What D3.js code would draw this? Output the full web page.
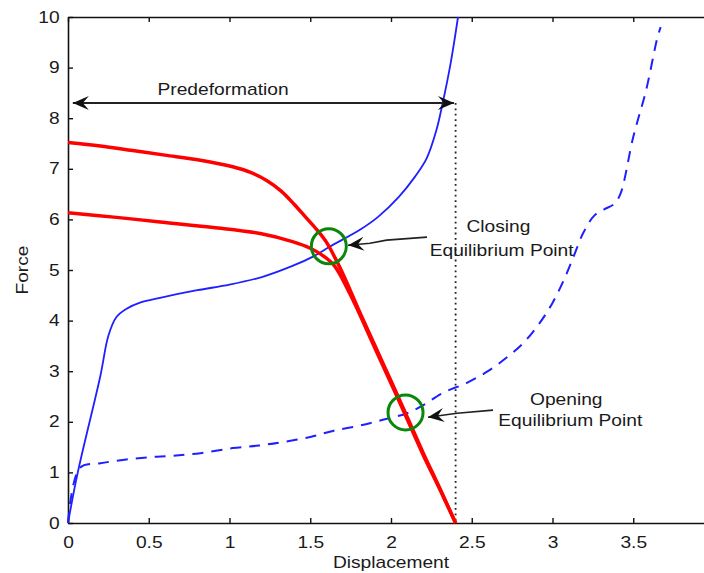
<!DOCTYPE html>
<html>
<head>
<meta charset="utf-8">
<script src="https://cdn.jsdelivr.net/npm/d3@7"></script>
<style>
  html, body { margin: 0; padding: 0; background: #fff; }
  svg { display: block; }
  text { font-family: "Liberation Sans", Arial, Helvetica, sans-serif; fill: #1a1a1a; }
</style>
</head>
<body>
<svg id="chart" width="704" height="573"></svg>
<script>
// ---- data ----
const xTicks = [0, 0.5, 1, 1.5, 2, 2.5, 3, 3.5];
const yTicks = [0, 1, 2, 3, 4, 5, 6, 7, 8, 9, 10];
const xTickLabels = ["0", "0.5", "1", "1.5", "2", "2.5", "3", "3.5"];
const yTickLabels = ["0", "1", "2", "3", "4", "5", "6", "7", "8", "9", "10"];

const blueSolidX = [0, 0.06, 0.2, 0.25, 0.3, 0.36, 0.45, 0.57, 0.8, 1.0, 1.2, 1.39, 1.52, 1.62, 1.81, 1.92, 2.05, 2.15, 2.22, 2.28, 2.32, 2.37, 2.415];
const blueSolidY = [0, 0.99, 2.9, 3.7, 4.07, 4.23, 4.36, 4.45, 4.6, 4.71, 4.86, 5.08, 5.27, 5.46, 5.8, 6.05, 6.45, 6.85, 7.2, 7.75, 8.3, 9.1, 10];

const blueDashX = [0, 0.074, 0.2, 0.35, 0.5, 0.65, 0.82, 1.02, 1.18, 1.33, 1.5, 1.64, 1.8, 1.95, 2.1, 2.2, 2.32, 2.47, 2.6, 2.72, 2.82, 2.92, 3.0, 3.07, 3.13, 3.19, 3.26, 3.32, 3.38, 3.42, 3.5, 3.58, 3.65, 3.67];
const blueDashY = [0, 1.09, 1.18, 1.25, 1.3, 1.33, 1.38, 1.48, 1.53, 1.6, 1.7, 1.82, 1.92, 2.04, 2.17, 2.33, 2.57, 2.77, 3.0, 3.28, 3.56, 3.95, 4.35, 4.8, 5.26, 5.73, 6.08, 6.2, 6.3, 6.5, 7.63, 8.56, 9.6, 9.8];

const redUpperX = [0, 0.2, 0.4, 0.6, 0.82, 1.02, 1.13, 1.23, 1.32, 1.4, 1.47, 1.54, 1.6, 1.66, 1.72, 1.81, 1.95, 2.09, 2.2, 2.3, 2.4];
const redUpperY = [7.52, 7.45, 7.36, 7.27, 7.17, 7.04, 6.93, 6.77, 6.56, 6.3, 6.05, 5.8, 5.55, 5.2, 4.8, 4.14, 3.16, 2.17, 1.38, 0.7, 0];

const redLowerX = [0, 0.3, 0.57, 0.9, 1.19, 1.39, 1.5, 1.58, 1.65, 1.75, 1.9, 2.05, 2.2, 2.3, 2.4];
const redLowerY = [6.13, 6.04, 5.95, 5.84, 5.72, 5.56, 5.43, 5.28, 5.08, 4.5, 3.46, 2.41, 1.34, 0.68, 0];

const predeformation = 2.4;      // displacement
const predeformationForce = 8.3; // height of arrow
const closingPoint = [1.615, 5.47];
const openingPoint = [2.09, 2.185];
const closingArrowX = [2.223, 1.973, 1.87, 1.734];
const closingArrowY = [5.65, 5.59, 5.53, 5.49];
const openingArrowX = [2.632, 2.409, 2.229];
const openingArrowY = [2.23, 2.17, 2.09];

// ---- layout ----
const svg = d3.select("#chart");
const x = d3.scaleLinear().domain([0, 4]).range([68, 714]);
const y = d3.scaleLinear().domain([0, 10]).range([523, 17]);
const TX = 1.2; // horizontal text stretch of the original raster

const defs = svg.append("defs");
defs.append("marker")
  .attr("id", "head")
  .attr("markerUnits", "userSpaceOnUse")
  .attr("viewBox", "-17 -8 18 16")
  .attr("refX", 0).attr("refY", 0)
  .attr("markerWidth", 18).attr("markerHeight", 16)
  .attr("orient", "auto-start-reverse")
  .append("path")
  .attr("d", "M0,0 L-16,-7 L-10,0 L-16,7 Z")
  .attr("fill", "#111");

const line = d3.line().x(d => x(d[0])).y(d => y(d[1])).curve(d3.curveCatmullRom.alpha(0.5));
const zip = (a, b) => a.map((v, i) => [v, b[i]]);

// axes
const axB = d3.axisBottom(x).tickValues(xTicks).tickSize(-5).tickSizeOuter(0).tickPadding(14)
  .tickFormat((d, i) => xTickLabels[i]);
const axT = d3.axisTop(x).tickValues(xTicks).tickSize(-5).tickSizeOuter(0).tickFormat("");
const axL = d3.axisLeft(y).tickValues(yTicks).tickSize(-5).tickSizeOuter(0).tickPadding(7)
  .tickFormat((d, i) => yTickLabels[i]);

function styleAxis(g) {
  g.select(".domain").attr("stroke", "#111").attr("stroke-width", 1.6);
  g.selectAll(".tick line").attr("stroke", "#111").attr("stroke-width", 1.4);
  g.selectAll(".tick text").attr("font-size", 16).attr("fill", "#1a1a1a")
    .attr("font-family", '"Liberation Sans", Arial, sans-serif')
    .attr("transform", `scale(${TX},1)`);
}
svg.append("g").attr("transform", `translate(0,${y(0)})`).call(axB).call(styleAxis);
svg.append("g").attr("transform", `translate(0,${y(10)})`).call(axT).call(styleAxis);
svg.append("g").attr("transform", `translate(${x(0)},0)`).call(axL).call(styleAxis);

// dotted predeformation line
svg.append("line")
  .attr("x1", x(predeformation)).attr("x2", x(predeformation))
  .attr("y1", y(predeformationForce)).attr("y2", y(0))
  .attr("stroke", "#222").attr("stroke-width", 1.8)
  .attr("stroke-dasharray", "1.8,3.6");

// curves
svg.append("path").datum(zip(blueDashX, blueDashY)).attr("d", line)
  .attr("fill", "none").attr("stroke", "#1f1fff").attr("stroke-width", 2)
  .attr("stroke-dasharray", "11,8");
svg.append("path").datum(zip(blueSolidX, blueSolidY)).attr("d", line)
  .attr("fill", "none").attr("stroke", "#1f1fff").attr("stroke-width", 1.8);
svg.append("path").datum(zip(redLowerX, redLowerY)).attr("d", line)
  .attr("fill", "none").attr("stroke", "#ff0000").attr("stroke-width", 3.5);
svg.append("path").datum(zip(redUpperX, redUpperY)).attr("d", line)
  .attr("fill", "none").attr("stroke", "#ff0000").attr("stroke-width", 3.5);

// equilibrium circles
[closingPoint, openingPoint].forEach(p => {
  svg.append("circle").attr("cx", x(p[0])).attr("cy", y(p[1])).attr("r", 17.5)
    .attr("fill", "none").attr("stroke", "#0a870a").attr("stroke-width", 3);
});

// predeformation double arrow
svg.append("line")
  .attr("x1", x(0.03)).attr("x2", x(predeformation - 0.01))
  .attr("y1", y(predeformationForce)).attr("y2", y(predeformationForce))
  .attr("stroke", "#222").attr("stroke-width", 2)
  .attr("marker-start", "url(#head)").attr("marker-end", "url(#head)");

const plain = d3.line().x(d => x(d[0])).y(d => y(d[1]));
svg.append("path").datum(zip(closingArrowX, closingArrowY)).attr("d", plain)
  .attr("fill", "none").attr("stroke", "#222").attr("stroke-width", 1.6)
  .attr("marker-end", "url(#head)");
svg.append("path").datum(zip(openingArrowX, openingArrowY)).attr("d", plain)
  .attr("fill", "none").attr("stroke", "#222").attr("stroke-width", 1.6)
  .attr("marker-end", "url(#head)");

// text annotations
function label(txt, cx, cy, size) {
  svg.append("text")
    .attr("transform", `translate(${cx},${cy}) scale(${TX},1)`)
    .attr("text-anchor", "middle")
    .attr("font-size", size)
    .text(txt);
}
label("Predeformation", x(0.96), 95, 16);
label("Closing", x(2.665), 232, 16);
label("Equilibrium Point", x(2.685), 256, 16);
label("Opening", x(3.085), 405, 16);
label("Equilibrium Point", x(3.11), 426, 16);
label("Displacement", x(2.0), 568, 16);

svg.append("text")
  .attr("transform", `translate(28,${(y(0) + y(10)) / 2}) rotate(-90) scale(${TX},1)`)
  .attr("text-anchor", "middle")
  .attr("font-size", 16)
  .text("Force");
</script>
</body>
</html>
